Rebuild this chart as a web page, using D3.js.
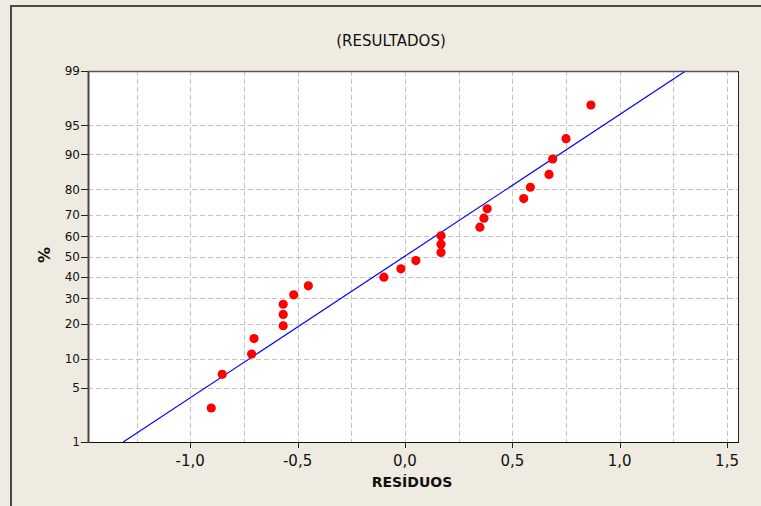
<!DOCTYPE html>
<html lang="pt">
<head>
<meta charset="UTF-8">
<title>(RESULTADOS)</title>
<script src="https://d3js.org/d3.v7.min.js"></script>
<style>
    body {
    margin: 0;
    background-color: #efebe1;
    }
    .grid line {
    stroke: #c4c4c4;
    stroke-width: 1px;
    stroke-dasharray: 5,3;
    }
    .tick-label {
    font-family: "DejaVu Sans", Verdana, sans-serif;
    fill: #111;
    }
    .axis-title {
    font-family: "DejaVu Sans", Verdana, sans-serif;
    font-weight: bold;
    fill: #111;
    }
</style>
</head>
<body>
<svg id="chart" width="761" height="506"></svg>
<script>
    const width = 761;
    const height = 506;

    // residuals, sorted
    const residuals = [-0.902, -0.851, -0.714, -0.703, -0.567, -0.567, -0.567, -0.518, -0.450,
                       -0.098, -0.019, 0.051, 0.168, 0.168, 0.168, 0.349, 0.368, 0.383,
                       0.553, 0.584, 0.671, 0.688, 0.750, 0.866];
    // cumulative percent for each point
    const percents = [2.87, 6.97, 11.07, 15.16, 19.26, 23.36, 27.46, 31.56, 35.66,
                      39.75, 43.85, 47.95, 52.05, 56.15, 60.25, 64.34, 68.44, 72.54,
                      76.64, 80.74, 84.84, 88.93, 93.03, 97.13];
    // fitted normal line: residual at 1% and at 99%
    const fitX = [-1.312, 1.307];
    const fitP = [1, 99];

    const yTicks = [1, 5, 10, 20, 30, 40, 50, 60, 70, 80, 90, 95, 99];
    const xTicks = [-1.0, -0.5, 0.0, 0.5, 1.0, 1.5];
    const xGrid = [-1.25, -1.0, -0.75, -0.5, -0.25, 0.0, 0.25, 0.5, 0.75, 1.0, 1.25, 1.5];

    const plot = {left: 88, top: 71, right: 738, bottom: 442};

    const svg = d3.select("#chart");

    // outer frame
    svg.append("rect")
    .attr("x", 11).attr("y", 6)
    .attr("width", width).attr("height", height)
    .attr("fill", "#efebe1")
    .attr("stroke", "#4a4a4a")
    .attr("stroke-width", 2);

    const x = d3.scaleLinear()
    .domain([-1.476, 1.551])
    .range([plot.left, plot.right]);

    // inverse normal cdf (Acklam), used for the probability axis
    function probit(pct) {
      const p = pct / 100;
      const a = [-39.69683028665376, 220.9460984245205, -275.9285104469687, 138.3577518672690, -30.66479806614716, 2.506628277459239];
      const b = [-54.47609879822406, 161.5858368580409, -155.6989798598866, 66.80131188771720, -13.28068155288572];
      const c = [-0.007784894002430293, -0.3223964580411365, -2.400758277161838, -2.549732539343734, 4.374664141464968, 2.938163982698783];
      const d = [0.007784695709041462, 0.3224671290700398, 2.445134137142996, 3.754408661907416];
      const pl = 0.02425;
      let q, r;
      if (p < pl) {
        q = Math.sqrt(-2 * Math.log(p));
        return (((((c[0]*q+c[1])*q+c[2])*q+c[3])*q+c[4])*q+c[5]) / ((((d[0]*q+d[1])*q+d[2])*q+d[3])*q+1);
      } else if (p <= 1 - pl) {
        q = p - 0.5; r = q * q;
        return (((((a[0]*r+a[1])*r+a[2])*r+a[3])*r+a[4])*r+a[5])*q / (((((b[0]*r+b[1])*r+b[2])*r+b[3])*r+b[4])*r+1);
      }
      q = Math.sqrt(-2 * Math.log(1 - p));
      return -(((((c[0]*q+c[1])*q+c[2])*q+c[3])*q+c[4])*q+c[5]) / ((((d[0]*q+d[1])*q+d[2])*q+d[3])*q+1);
    }

    const yz = d3.scaleLinear()
    .domain([probit(1), probit(99)])
    .range([plot.bottom, plot.top]);
    const y = p => yz(probit(p));

    // plot background
    svg.append("rect")
    .attr("x", plot.left).attr("y", plot.top)
    .attr("width", plot.right - plot.left)
    .attr("height", plot.bottom - plot.top)
    .attr("fill", "white");

    // grid
    const grid = svg.append("g").attr("class", "grid");
    grid.selectAll(".vg")
    .data(xGrid)
    .enter()
    .append("line")
    .attr("x1", d => Math.round(x(d)) + 0.5)
    .attr("x2", d => Math.round(x(d)) + 0.5)
    .attr("y1", plot.top)
    .attr("y2", plot.bottom);

    grid.selectAll(".hg")
    .data(yTicks.slice(1, -1))
    .enter()
    .append("line")
    .attr("x1", plot.left)
    .attr("x2", plot.right)
    .attr("y1", d => Math.round(y(d)) + 0.5)
    .attr("y2", d => Math.round(y(d)) + 0.5);

    // fitted line
    svg.append("line")
    .attr("x1", x(fitX[0])).attr("y1", y(fitP[0]))
    .attr("x2", x(fitX[1])).attr("y2", y(fitP[1]))
    .attr("stroke", "#0000ff")
    .attr("stroke-width", 1.2);

    // points
    svg.selectAll(".pt")
    .data(residuals)
    .enter()
    .append("circle")
    .attr("cx", d => x(d))
    .attr("cy", (d, i) => y(percents[i]))
    .attr("r", 4.6)
    .attr("fill", "#ff0000");

    // frame
    svg.append("line")
    .attr("x1", plot.left).attr("x2", plot.right)
    .attr("y1", plot.top + 0.5).attr("y2", plot.top + 0.5)
    .attr("stroke", "#555").attr("stroke-width", 1.5);
    svg.append("line")
    .attr("x1", plot.right + 0.5).attr("x2", plot.right + 0.5)
    .attr("y1", plot.top).attr("y2", plot.bottom)
    .attr("stroke", "#222").attr("stroke-width", 1);
    svg.append("line")
    .attr("x1", plot.left).attr("x2", plot.right + 1)
    .attr("y1", plot.bottom + 0.5).attr("y2", plot.bottom + 0.5)
    .attr("stroke", "#111").attr("stroke-width", 1.2);
    svg.append("line")
    .attr("x1", plot.left + 0.5).attr("x2", plot.left + 0.5)
    .attr("y1", plot.top).attr("y2", plot.bottom + 1)
    .attr("stroke", "#444").attr("stroke-width", 2);

    // y ticks
    const yAxis = svg.append("g");
    yAxis.selectAll(".yt")
    .data(yTicks)
    .enter()
    .append("line")
    .attr("x1", plot.left - 7).attr("x2", plot.left)
    .attr("y1", d => Math.round(y(d)) + 0.5)
    .attr("y2", d => Math.round(y(d)) + 0.5)
    .attr("stroke", "#222");
    yAxis.selectAll(".yl")
    .data(yTicks)
    .enter()
    .append("text")
    .attr("class", "tick-label")
    .attr("x", plot.left - 8)
    .attr("y", d => y(d))
    .attr("dy", "0.36em")
    .attr("text-anchor", "end")
    .attr("font-size", 12)
    .text(d => d);

    // x ticks
    const fmt = d => d3.format(".1f")(d).replace(".", ",").replace("−", "-");
    const xAxis = svg.append("g");
    xAxis.selectAll(".xt")
    .data(xTicks)
    .enter()
    .append("line")
    .attr("x1", d => Math.round(x(d)) + 0.5)
    .attr("x2", d => Math.round(x(d)) + 0.5)
    .attr("y1", plot.bottom).attr("y2", plot.bottom + 6)
    .attr("stroke", "#222");
    xAxis.selectAll(".xl")
    .data(xTicks)
    .enter()
    .append("text")
    .attr("class", "tick-label")
    .attr("x", d => x(d))
    .attr("y", 466)
    .attr("text-anchor", "middle")
    .attr("font-size", 15)
    .text(fmt);

    // titles
    svg.append("text")
    .attr("class", "tick-label")
    .attr("x", 391).attr("y", 46)
    .attr("text-anchor", "middle")
    .attr("font-size", 15)
    .text("(RESULTADOS)");

    svg.append("text")
    .attr("class", "axis-title")
    .attr("x", 412).attr("y", 487)
    .attr("text-anchor", "middle")
    .attr("font-size", 14)
    .text("RESÍDUOS");

    svg.append("text")
    .attr("class", "axis-title")
    .attr("transform", "translate(50,255) rotate(-90)")
    .attr("text-anchor", "middle")
    .attr("font-size", 16)
    .text("%");
</script>
</body>
</html>
